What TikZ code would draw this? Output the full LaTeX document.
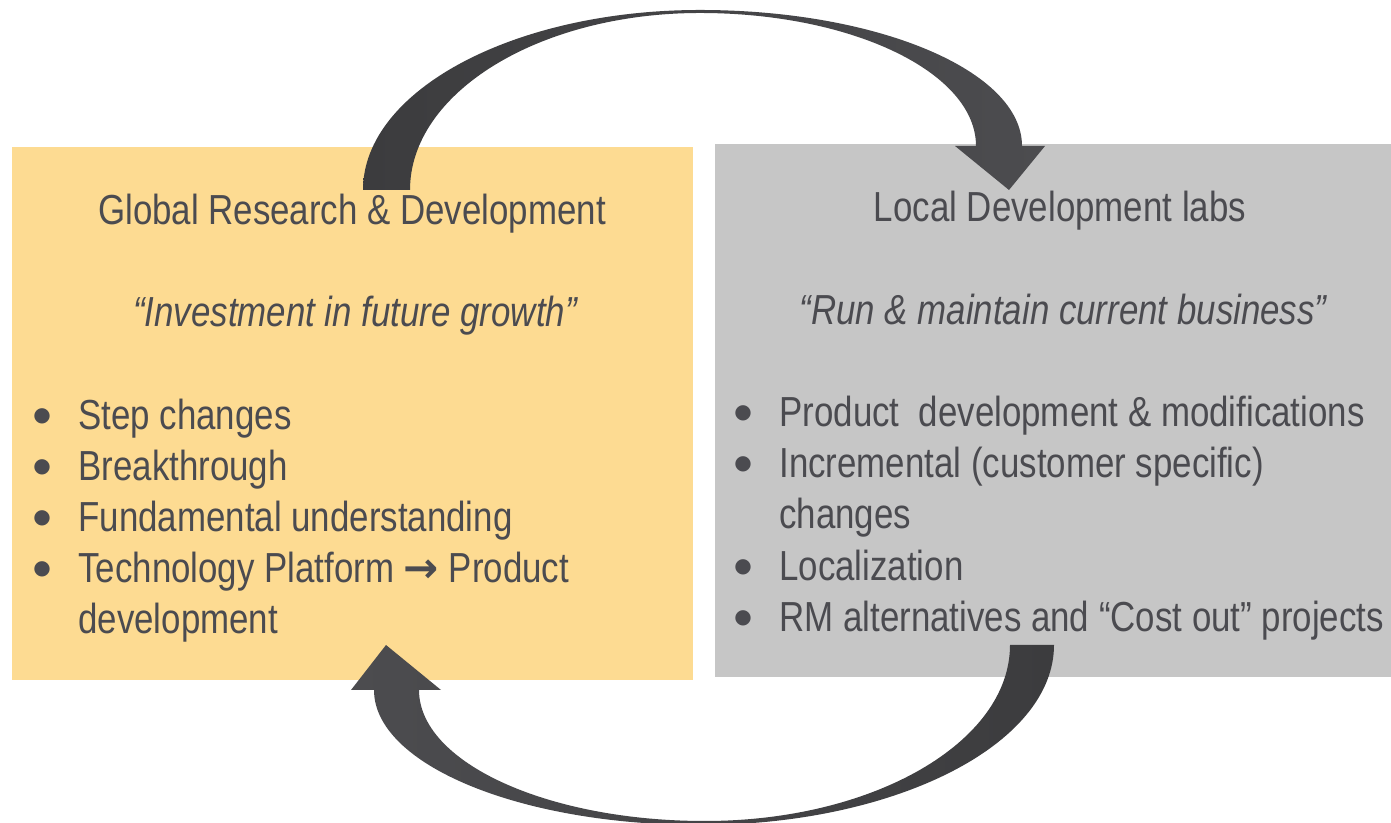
\documentclass[tikz,border=0pt]{standalone}
\usepackage{fontspec}
\setmainfont{Liberation Sans}[FakeStretch=0.83]
\newfontfamily\arrowfont{DejaVu Sans}
\usetikzlibrary{positioning}

\definecolor{boxyellow}{HTML}{FDDB92}
\definecolor{boxgray}{HTML}{C6C6C6}
\definecolor{txtgray}{HTML}{4B4B50}
\definecolor{arrdark}{HTML}{3C3C3E}
\definecolor{arrlight}{HTML}{4C4C4F}

\newcommand{\blt}{\makebox[23.5pt][l]{\hspace*{1pt}\raisebox{4.3pt}{\arrowfont\fontsize{10}{10}\selectfont ●}}}
\newcommand{\bltgap}{\hspace*{23.5pt}}

\tikzset{
  panel/.style={draw=none, inner sep=0pt, minimum height=266.5pt},
  title/.style={anchor=base, inner sep=0pt, text=txtgray, font=\fontsize{21}{25}\selectfont},
  motto/.style={title, font=\fontsize{21}{25}\selectfont\itshape},
  item/.style={anchor=base west, inner sep=0pt, text=txtgray, font=\fontsize{21}{25}\selectfont},
  loop arrow/.style={draw=none}
}

\begin{document}
\begin{tikzpicture}[x=0.5pt, y=0.5pt]
\useasboundingbox (0,0) rectangle (1391,823);
%
\node[panel, fill=boxyellow, minimum width=340.5pt] (grd) at (352.5,409.5) {};
\node[panel, fill=boxgray, minimum width=338pt] (ldl) at (1053,412.5) {};
%
\node[title] (grdtitle) at (352,598) {Global Research \& Development};
\node[motto] (grdmotto) at (355,496) {“Investment in future growth”};
\node[title] (ldltitle) at (1060,601) {Local Development labs};
\node[motto] (ldlmotto) at (1063,498) {“Run \& maintain current business”};
%
\foreach \yy/\txt in {393/Step changes, 342/Breakthrough, 291/Fundamental understanding,
    240/{Technology Platform {\arrowfont\bfseries →} Product}}
  \node[item] (g\yy) at (31,\yy) {\blt\txt};
\node[item] (g189) at (31,189) {\bltgap development};
%
\foreach \yy/\txt in {396/{Product\ \ development \& modifications}, 345/{Incremental (customer specific)},
    242/Localization, 191/{RM alternatives and “Cost out” projects}}
  \node[item] (l\yy) at (732,\yy) {\blt\txt};
\node[item] (l294) at (732,294) {\bltgap changes};
%
% top arrow: global -> local
\path[loop arrow, left color=arrdark, right color=arrlight] (363,633)
  arc[start angle=180, end angle=90, x radius=337, y radius=180]
  arc[start angle=90, end angle=0, x radius=322, y radius=136]
  -- (1045,677) -- (1009,633) -- (955,677) -- (976,677)
  arc[start angle=0, end angle=90, x radius=276, y radius=133]
  arc[start angle=90, end angle=180, x radius=290, y radius=177]
  -- cycle;
% bottom arrow: local -> global
\path[loop arrow, left color=arrlight, right color=arrdark] (1054,178)
  arc[start angle=0, end angle=-90, x radius=354, y radius=180]
  arc[start angle=270, end angle=180, x radius=326, y radius=135]
  -- (351,133) -- (386,178) -- (441,133) -- (419,133)
  arc[start angle=180, end angle=270, x radius=286, y radius=131]
  arc[start angle=270, end angle=360, x radius=305, y radius=176]
  -- cycle;
\end{tikzpicture}
\end{document}
